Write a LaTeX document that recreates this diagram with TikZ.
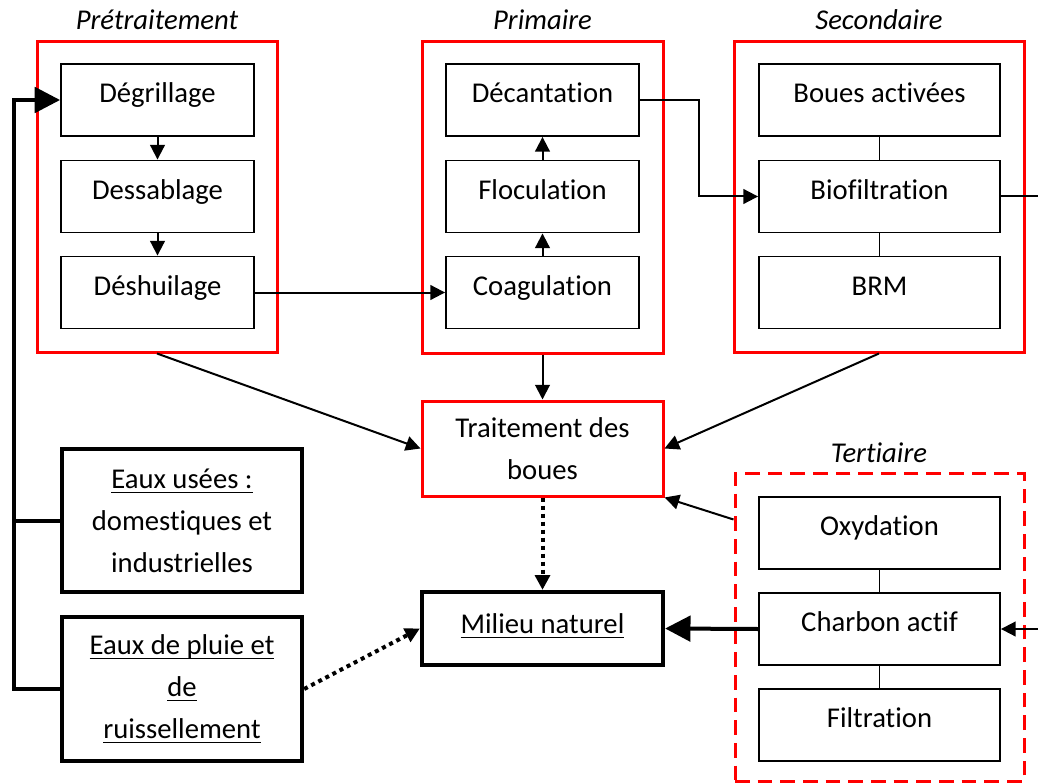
\documentclass[tikz,border=0pt]{standalone}
\usepackage{fontspec}
\setmainfont{Carlito}[Ligatures={NoCommon}]
\newsavebox\myulbox
\newcommand\myul[1]{\sbox\myulbox{#1}\rlap{\usebox\myulbox}\rule[-3.8pt]{\wd\myulbox}{1pt}}
\usetikzlibrary{arrows.meta,calc}
\begin{document}
\begin{tikzpicture}[x=0.75pt,y=-0.75pt,
  txt/.style={font=\fontsize{21.5}{31.5}\selectfont},
  proc/.style={draw, line width=1.4pt, minimum height=54pt, inner sep=0pt, txt, text height=13pt, text depth=9.2pt},
  grp/.style={draw=red, line width=2.25pt, inner sep=0pt},
  heavy/.style={draw, line width=3.2pt, inner sep=0pt, txt, align=center},
  ttl/.style={font=\fontsize{21.5}{24}\selectfont\itshape, inner sep=0pt, anchor=base},
  arr/.style={line width=1.5pt, -{Triangle[length=11pt,width=11pt]}},
  link/.style={line width=1.1pt},
  bigarr/.style={line width=3pt, -{Triangle[length=19pt,width=19pt]}},
  dotarr/.style={line width=3pt, dash pattern=on 3pt off 3pt, -{Triangle[length=11pt,width=11pt]}},
  bus/.style={line width=3pt},
]
\useasboundingbox (0,0) rectangle (1038,784);

% groups
\node[grp, minimum width=180pt, minimum height=232.5pt] (pre) at (157,197) {};
\node[grp, minimum width=180.75pt, minimum height=233.25pt] (pri) at (542.5,197.5) {};
\node[grp, minimum width=217.5pt, minimum height=232.5pt] (sec) at (879,197) {};
\node[grp, dash pattern=on 11pt off 6pt, minimum width=216.75pt, minimum height=231pt] (ter) at (879.5,627) {};

% titles
\node[ttl] (tpre) at (157,30) {Prétraitement};
\node[ttl] (tpri) at (542.5,30) {Primaire};
\node[ttl] (tsec) at (879,30) {Secondaire};
\node[ttl] (tter) at (879,462) {Tertiaire};

% process boxes
\node[proc, minimum width=144.75pt] (dg) at (157.5,100) {Dégrillage};
\node[proc, minimum width=144.75pt] (ds) at (157.5,196.5) {Dessablage};
\node[proc, minimum width=144.75pt] (dh) at (157.5,292.5) {Déshuilage};
\node[proc, minimum width=144.75pt] (de) at (542.5,100) {Décantation};
\node[proc, minimum width=144.75pt] (fl) at (542.5,196.5) {Floculation};
\node[proc, minimum width=144.75pt] (co) at (542.5,292.5) {Coagulation};
\node[proc, minimum width=180.75pt] (ba) at (879.5,100) {Boues activées};
\node[proc, minimum width=180.75pt] (bf) at (879.5,196.5) {Biofiltration};
\node[proc, minimum width=180.75pt] (brm) at (879.5,292.5) {BRM};
\node[proc, minimum width=180.75pt] (ox) at (879.5,533) {Oxydation};
\node[proc, minimum width=180.75pt] (ca) at (879.5,629) {Charbon actif};
\node[proc, minimum width=180.75pt] (fi) at (879.5,725) {Filtration};

% other boxes
\node[draw=red, line width=2.25pt, inner sep=0pt, txt, align=center, minimum width=180.75pt, minimum height=71.25pt] (tb) at (542.5,448.5) {Traitement des\\boues};
\node[heavy, minimum width=180.75pt, minimum height=54.75pt, text height=13pt, text depth=6.2pt] (mn) at (542.5,628.5) {\myul{Milieu naturel}};
\node[heavy, minimum width=180pt, minimum height=107.25pt] (eu) at (182,520.5) {\myul{Eaux usées :}\\domestiques et\\industrielles};
\node[heavy, minimum width=180pt, minimum height=108pt] (ep) at (182,689) {\myul{Eaux de pluie et}\\\myul{de}\\\myul{ruissellement}};

% coordinates
\coordinate (bustop) at (14,100);
\coordinate (rA) at (1038,196.5);
\coordinate (rB) at (1038,629);

% connectors
\draw[bus, -{Triangle[length=19pt,width=19pt]}] (ep.west) -| (bustop) -- (dg.west);
\draw[bus] (eu.west) -- (eu.west -| bustop);

\draw[arr] (dg) -- (ds);
\draw[arr] (ds) -- (dh);
\draw[arr] (dh.east) -- (co.west);
\draw[arr] (co) -- (fl);
\draw[arr] (fl) -- (de);
\draw[arr] (de.east) -- ++(59,0) |- (bf.west);
\draw[link] (ba) -- (bf);
\draw[link] (bf) -- (brm);
\draw[link] (ox) -- (ca);
\draw[link] (ca) -- (fi);
\draw[line width=1.5pt] (bf.east) -- (rA);
\draw[arr] (rB) -- (ca.east);

\draw[arr] (pre.south) -- (tb.west);
\draw[arr] (pri.south) -- (tb.north);
\draw[arr] (sec.south) -- (tb.east);
\draw[arr] ($(ter.north west)+(0,48)$) -- (tb.south east);

\draw[dotarr] (tb.south) -- (mn.north);
\draw[dotarr] (ep.east) -- (mn.west);
\draw[bigarr] (ca.west) -- (mn.east);
\end{tikzpicture}
\end{document}
